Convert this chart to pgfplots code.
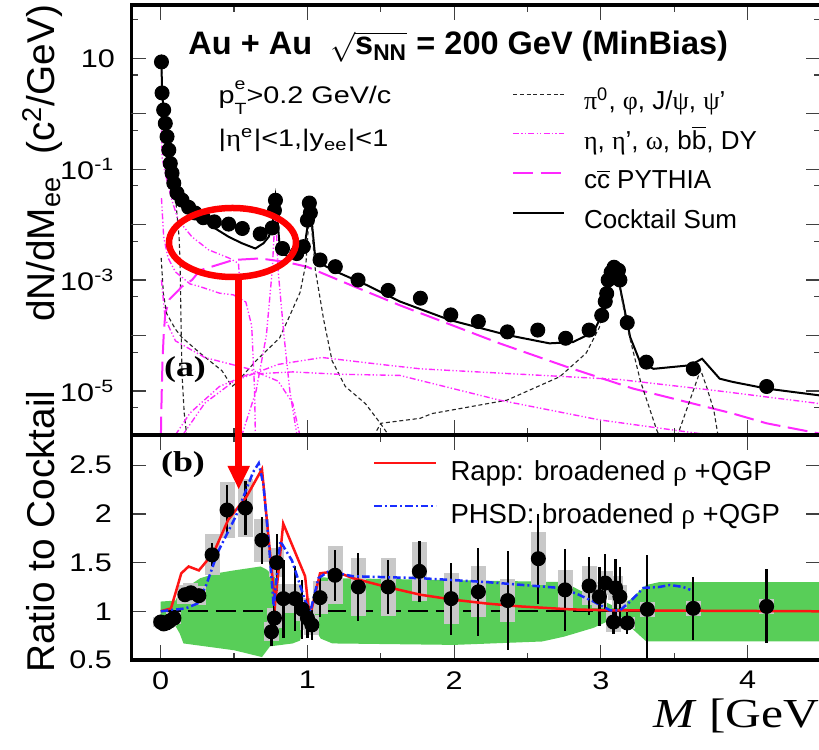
\documentclass[border=0pt]{standalone}
\usepackage{pgfplots}
\pgfplotsset{compat=1.18}
\usepackage{pgfplotstable}
\usepackage{amsmath}
\usepackage{fontspec}
\setmainfont{Liberation Sans}
\newfontfamily\grk{Liberation Serif}
\definecolor{bandgreen}{RGB}{88,206,88}
\definecolor{mag}{RGB}{255,40,255}
\definecolor{sysgray}{RGB}{200,200,200}
\definecolor{rappred}{RGB}{255,20,20}
\definecolor{phsdblue}{RGB}{25,45,255}

\pgfplotstableread{
M r stat sys
0.00 0.89 0.03 0.05
0.02 0.87 0.03 0.05
0.04 0.88 0.03 0.05
0.06 0.90 0.03 0.05
0.09 0.93 0.04 0.06
0.165 1.17 0.06 0.10
0.205 1.19 0.06 0.10
0.26 1.16 0.06 0.10
0.35 1.58 0.12 0.21
0.452 2.04 0.26 0.29
0.577 2.06 0.28 0.30
0.69 1.73 0.24 0.22
0.79 1.50 0.29 0.15
0.755 0.79 0.15 0.10
0.775 0.93 0.20 0.10
0.836 1.13 0.40 0.15
0.915 1.13 0.33 0.15
0.965 1.02 0.30 0.12
1.0 0.93 0.20 0.12
1.03 0.86 0.15 0.10
1.086 1.14 0.20 0.17
1.188 1.37 0.26 0.30
1.347 1.25 0.35 0.30
1.55 1.25 0.28 0.30
1.763 1.41 0.31 0.30
1.979 1.13 0.37 0.26
2.165 1.20 0.45 0.26
2.365 1.11 0.51 0.22
2.574 1.54 0.46 0.27
2.756 1.22 0.42 0.20
2.92 1.26 0.30 0.20
2.99 1.15 0.30 0.12
3.03 1.29 0.30 0.12
3.086 0.89 0.12 0.10
3.10 1.24 0.30 0.12
3.13 1.15 0.30 0.12
3.18 0.88 0.11 0.06
3.317 1.02 0.56 0.08
3.63 1.03 0.32 0.08
4.13 1.05 0.38 0.08
}\ratiodata

\pgfplotstableread{
M v
0.005 8.6
0.009 2.37
0.02 1.17
0.031 0.67
0.043 0.385
0.055 0.221
0.065 0.127
0.077 0.085
0.089 0.056
0.111 0.037
0.145 0.0277
0.19 0.0205
0.234 0.0162
0.29 0.0133
0.365 0.0112
0.463 0.0102
0.556 0.0085
0.678 0.0068
0.76 0.0087
0.775 0.018
0.782 0.0275
0.83 0.0037
0.927 0.0030
0.972 0.0040
1.0 0.012
1.013 0.0245
1.02 0.0163
1.086 0.0023
1.19 0.00174
1.345 0.0010
1.55 6.5e-4
1.77 4.7e-4
1.977 2.35e-4
2.165 1.78e-4
2.363 1.16e-4
2.57 1.25e-4
2.76 8.9e-5
2.92 1.25e-4
3.006 2.3e-4
3.03 4.1e-4
3.04 5.7e-4
3.05 1.0e-3
3.07 1.38e-3
3.09 1.7e-3
3.12 1.5e-3
3.13 1.0e-3
3.18 1.7e-4
3.31 3.3e-5
3.63 2.5e-5
4.13 1.2e-5
}\spectrum

\begin{document}
\begin{tikzpicture}
\useasboundingbox (0,0) rectangle (327.6pt,300pt);
% ---------------- top panel ----------------
\begin{axis}[
  at={(52.56pt,126pt)}, anchor=south west, scale only axis,
  width=275.8pt, height=172pt,
  xmin=-0.2, xmax=4.5, ymode=log, ymin=1.6e-6, ymax=91.5,
  axis line style={line width=1.5pt},
  tick align=inside,
  xtick={0,1,2,3,4}, minor xtick={0.5,1.5,2.5,3.5}, xticklabels={,,},
  ytick={1e-5,1e-3,0.1,10},
  yticklabels={10\textsuperscript{-5},10\textsuperscript{-3},10\textsuperscript{-1},10},
  extra y ticks={1e-4,1e-2,1}, extra y tick labels={},
  minor ytick={5e-6,5e-5,5e-4,5e-3,5e-2,0.5,5,50},
  major tick length=6pt, minor tick length=2.8pt,
  tick style={line width=0.5pt, black!75},
  yticklabel style={font=\fontsize{10.2}{12}\selectfont, xscale=1.2, xshift=-2pt},
  legend style={at={(rel axis cs:0.552,0.8025)}, anchor=north west, draw=none, fill=none,
     inner sep=0pt, outer sep=0pt, row sep=4.8pt, column sep=7.6pt,
     font=\fontsize{10.4}{12}\selectfont,
     nodes={inner sep=0pt, text height=8pt, text depth=3pt}},
  legend cell align=left,
  legend image code/.code={\draw[#1] (0pt,3.75pt) -- (20.4pt,3.75pt);},
]
% pi0 (black dashed)
\addplot[black!85, line width=0.45pt, dash pattern=on 1.6pt off 1.1pt] coordinates {
(0.005,8.3) (0.01,2.3) (0.02,1.1) (0.04,0.38) (0.06,0.17) (0.08,0.075) (0.10,0.033)
(0.11,0.016) (0.125,0.006) (0.132,2e-3) (0.138,2e-4) (0.145,2e-5) (0.16,4e-6) (0.178,1.5e-6)};
\addlegendentry{{\grk π}\textsuperscript{0}, {\grk φ}, J/{\grk ψ}, {\grk ψ}'}
% eta Dalitz (magenta dash-dot-dot)
\addplot[mag, line width=0.55pt, dash pattern=on 2.4pt off 0.9pt on 0.5pt off 0.9pt on 0.5pt off 0.9pt] coordinates {
(0.005,0.5) (0.01,0.16) (0.031,0.083) (0.077,0.027) (0.12,0.012) (0.213,6e-3) (0.327,3.5e-3)
(0.464,2.5e-3) (0.53,2e-3) (0.545,5e-4) (0.548,1.5e-6)};
\addlegendentry{{\grk η}, {\grk η}', {\grk ω}, b$\overline{\mbox{b}}$, DY}
% c cbar
\addplot[mag, line width=0.8pt, dash pattern=on 8pt off 3pt] coordinates {
(0.001,1.5e-6) (0.006,8e-6) (0.012,3.5e-5) (0.02,1e-4) (0.031,2.5e-4) (0.06,4.5e-4) (0.123,6.6e-4)
(0.143,7.6e-4) (0.213,1e-3) (0.268,1.5e-3) (0.495,2.3e-3) (0.677,2.45e-3) (0.859,2.1e-3)
(0.995,1.74e-3) (1.3,8e-4) (1.63,3.5e-4) (2.31,7.2e-5) (2.77,2.7e-5) (3.22,1.1e-5)
(3.9,3.9e-6) (4.13,2.6e-6) (4.49,1.7e-6)};
\addlegendentry{c$\overline{\mbox{c}}$ PYTHIA}
% cocktail sum
\addplot[black, line width=0.8pt] coordinates {
(0.005,8.6) (0.009,2.37) (0.02,1.15) (0.04,0.4) (0.06,0.17) (0.08,0.08) (0.1,0.045) (0.13,0.028)
(0.18,0.019) (0.26,0.0138) (0.372,0.0085) (0.464,0.006) (0.554,0.0046) (0.645,0.0037)
(0.70,0.0046) (0.736,0.006) (0.76,0.009) (0.782,0.03) (0.80,0.009) (0.815,0.003) (0.915,0.0025)
(0.98,0.004) (1.005,0.011) (1.018,0.0275) (1.035,0.008) (1.05,0.0031) (1.086,0.002) (1.2,0.0014)
(1.4,8.2e-4) (1.63,4.1e-4) (1.97,1.9e-4) (2.36,1.02e-4) (2.65,7.2e-5) (2.81,7.6e-5)
(2.95,1.15e-4) (2.99,1.9e-4) (3.04,6e-4) (3.085,1.74e-3) (3.13,7.6e-4) (3.2,9.3e-5)
(3.27,3.2e-5) (3.36,2.5e-5) (3.61,2.9e-5) (3.69,3.8e-5) (3.81,1.66e-5) (3.90,1.45e-5)
(4.13,1.1e-5) (4.49,8.3e-6)};
\addlegendentry{Cocktail Sum}
% phi (Dalitz + peak)
\addplot[forget plot, black!85, line width=0.45pt, dash pattern=on 1.6pt off 1.1pt] coordinates {
(0.003,2.5e-3) (0.018,5.7e-4) (0.04,2.5e-4) (0.1,1.3e-4) (0.143,9.3e-5) (0.268,4.8e-5)
(0.418,2.3e-5) (0.486,1.2e-5) (0.51,1.35e-5) (0.65,3.5e-5) (0.81,9e-5) (0.87,2e-4) (0.95,6e-4)
(0.99,2e-3) (1.005,8e-3) (1.019,0.027) (1.03,8e-3) (1.054,1.5e-3) (1.111,1.9e-4) (1.168,3.5e-5)
(1.258,1.2e-5) (1.395,5.9e-6) (1.497,2.6e-6) (1.56,1.5e-6)};
% J/psi
\addplot[forget plot, black!85, line width=0.45pt, dash pattern=on 1.6pt off 1.1pt] coordinates {
(1.45,1.5e-6) (1.5,2.6e-6) (1.768,3.2e-6) (1.85,3.9e-6) (2.36,6.8e-6) (2.72,1.8e-5) (2.90,4.8e-5)
(2.99,1.4e-4) (3.04,5e-4) (3.09,1.6e-3) (3.13,7e-4) (3.18,1.4e-4) (3.27,1.5e-5) (3.38,2e-6) (3.40,1.5e-6)};
% psi'
\addplot[forget plot, black!85, line width=0.45pt, dash pattern=on 1.6pt off 1.1pt] coordinates {
(3.52,1.5e-6) (3.6,6e-6) (3.68,2.4e-5) (3.72,1.2e-5) (3.77,4.5e-6) (3.80,1.5e-6)};
% omega Dalitz
\addplot[forget plot, mag, line width=0.55pt, dash pattern=on 2.4pt off 0.9pt on 0.5pt off 0.9pt on 0.5pt off 0.9pt] coordinates {
(0.005,0.03) (0.02,6e-3) (0.05,2.5e-3) (0.1,1.4e-3) (0.2,8.5e-4) (0.268,7.6e-4) (0.4,5.8e-4)
(0.495,5.4e-4) (0.58,4e-4) (0.62,1.5e-4) (0.64,1e-5) (0.645,1.5e-6)};
% omega peak
\addplot[forget plot, mag, line width=0.55pt, dash pattern=on 2.4pt off 0.9pt on 0.5pt off 0.9pt on 0.5pt off 0.9pt] coordinates {
(0.55,1.5e-6) (0.65,1e-5) (0.72,1e-4) (0.76,1.5e-3) (0.782,0.02) (0.80,1.5e-3) (0.84,1e-4)
(0.88,1e-5) (0.93,1.5e-6)};
% eta' Dalitz
\addplot[forget plot, mag, line width=0.55pt, dash pattern=on 2.4pt off 0.9pt on 0.5pt off 0.9pt on 0.5pt off 0.9pt] coordinates {
(0.005,1e-3) (0.03,2e-4) (0.1,8e-5) (0.3,4e-5) (0.6,2.5e-5) (0.8,1.5e-5) (0.9,6e-6) (0.95,1.5e-6)};
% b bbar / DY
\addplot[forget plot, mag, line width=0.55pt, dash pattern=on 2.4pt off 0.9pt on 0.5pt off 0.9pt on 0.5pt off 0.9pt] coordinates {
(0.15,1.6e-6) (0.3,6e-6) (0.5,1.5e-5) (0.8,3e-5) (1.1,4e-5) (1.5,3e-5) (1.77,2.5e-5) (2.3,2.1e-5)
(3.13,1.6e-5) (3.8,1e-5) (4.49,5.9e-6)};
\addplot[forget plot, mag, line width=0.55pt, dash pattern=on 2.4pt off 0.9pt on 0.5pt off 0.9pt on 0.5pt off 0.9pt] coordinates {
(0.1,1.6e-6) (0.2,4e-6) (0.4,1.2e-5) (0.6,2e-5) (0.9,2.2e-5) (1.2,2e-5) (1.63,1.9e-5) (2.31,6.8e-6)
(2.99,3e-6) (3.36,2.2e-6) (3.67,1.7e-6) (3.9,1.6e-6)};
% data
\addplot[forget plot, only marks, mark=*, mark size=2.8pt, mark options={fill=black, draw=black}] table[x=M, y=v] {\spectrum};
\end{axis}

% ---------------- bottom panel ----------------
\begin{axis}[
  at={(52.56pt,36pt)}, anchor=south west, scale only axis,
  width=275.8pt, height=90pt,
  xmin=-0.2, xmax=4.5, ymin=0.5, ymax=2.81,
  axis line style={line width=1.5pt},
  tick align=inside,
  xtick={0,1,2,3,4}, minor xtick={0.5,1.5,2.5,3.5},
  ytick={0.5,1,1.5,2,2.5},
  major tick length=6pt, minor tick length=2.8pt,
  tick style={line width=0.5pt, black!75},
  /pgf/number format/assume math mode=true,
  ticklabel style={font=\fontsize{10.2}{12}\selectfont, xscale=1.2},
  yticklabel style={xshift=-3pt},
  xticklabel style={yshift=-1pt},
  legend style={at={(rel axis cs:0.3504,0.894)}, anchor=north west, draw=none, fill=none,
     inner sep=0pt, outer sep=0pt, row sep=5.7pt, column sep=5.2pt,
     font=\fontsize{11}{13}\selectfont,
     nodes={inner sep=0pt, text height=8.5pt, text depth=3pt}},
  legend cell align=left,
  legend image code/.code={\draw[#1] (0pt,4pt) -- (24.8pt,4pt);},
]
\addplot[forget plot, fill=bandgreen, draw=none] coordinates {
(0,1.10) (0.10,1.11) (0.13,1.2) (0.27,1.34) (0.38,1.39) (0.5,1.42) (0.68,1.46) (0.72,1.43)
(0.78,1.35) (0.80,1.15) (0.9,1.15) (0.97,1.1) (1.0,1.05) (1.03,1.05) (1.06,1.3) (1.09,1.35)
(1.2,1.34) (2.0,1.32) (2.75,1.30) (2.85,1.22) (2.95,1.15) (3.08,1.06) (3.12,1.06) (3.2,1.12)
(3.31,1.27) (3.4,1.30) (4.6,1.30)
(4.6,0.69) (3.31,0.69) (3.2,0.84) (3.12,0.92) (3.08,0.92) (2.95,0.83) (2.75,0.74) (2.6,0.69)
(2.0,0.655) (1.17,0.67) (1.09,0.72) (1.06,0.8) (1.03,0.95) (1.0,0.95) (0.97,0.85) (0.95,0.7)
(0.9,0.67) (0.745,0.64) (0.69,0.53) (0.5,0.6) (0.155,0.67) (0.13,0.77) (0.10,0.85) (0,0.86)} -- cycle;
\addplot[forget plot, black, line width=0.8pt, dash pattern=on 8pt off 3pt] coordinates {(0,1) (4.6,1)};
\addplot[forget plot, only marks, mark=none, error bars/.cd, y dir=both, y explicit, error mark=none,
  error bar style={line width=6pt, sysgray}] table[x=M, y=r, y error=sys] {\ratiodata};
\addplot[forget plot, only marks, mark=none, error bars/.cd, y dir=both, y explicit, error mark=none,
  error bar style={line width=0.9pt, black}] table[x=M, y=r, y error=stat] {\ratiodata};
\addplot[forget plot, only marks, mark=*, mark size=2.8pt, mark options={fill=black, draw=black}] table[x=M, y=r] {\ratiodata};
\addplot[rappred, line width=1pt] coordinates {
(0.0,1.0) (0.07,1.03) (0.14,1.39) (0.19,1.46) (0.26,1.42) (0.36,1.60) (0.46,1.94) (0.586,2.18)
(0.69,2.46) (0.723,1.94) (0.757,1.42) (0.78,1.08) (0.835,1.90) (0.984,1.36) (1.006,1.05)
(1.03,1.03) (1.086,1.39) (1.19,1.41) (1.31,1.34) (1.54,1.25) (1.77,1.17) (1.99,1.12) (2.22,1.08)
(2.45,1.05) (2.79,1.02) (3.06,1.01) (4.5,1.0)};
\addlegendentry{Rapp: broadened {\grk ρ} +QGP}
\addplot[phsdblue, line width=1pt, dash pattern=on 3pt off 1.2pt on 0.8pt off 1.2pt] coordinates {
(0.0,1.0) (0.17,1.03) (0.25,1.08) (0.31,1.27) (0.39,1.61) (0.51,1.97) (0.63,2.43) (0.668,2.52)
(0.70,2.30) (0.737,1.70) (0.77,1.05) (0.815,1.72) (0.895,1.52) (0.986,1.1) (1.02,1.0)
(1.075,1.34) (1.145,1.41) (1.31,1.36) (1.77,1.34) (2.22,1.30) (2.72,1.24) (2.836,1.18)
(2.95,1.10) (3.063,1.01) (3.13,1.01) (3.2,1.10) (3.29,1.24) (3.4,1.25) (3.47,1.27) (3.56,1.25) (3.61,1.22)};
\addlegendentry{PHSD: broadened {\grk ρ} +QGP}
\end{axis}

% ---------------- texts and annotation (pixel frame) ----------------
\begin{scope}[x=0.4pt, y=-0.4pt, yshift=300pt]
\node[anchor=base west, inner sep=0pt, font=\fontsize{13}{15}\bfseries\selectfont] at (188,55)
  {Au + Au\ \ $\sqrt{\text{s}_{\text{NN}}}$ = 200 GeV (MinBias)};
\node[anchor=base west, inner sep=0pt, xscale=1.2, font=\fontsize{9.6}{11}\selectfont] at (218,104)
  {p\rlap{\raisebox{0.62em}{\fontsize{6.5}{7}\selectfont e}}\raisebox{-0.42em}{\fontsize{6.5}{7}\selectfont T}>0.2 GeV/c};
\node[anchor=base west, inner sep=0pt, xscale=1.2, font=\fontsize{9.6}{11}\selectfont] at (218,147)
  {|{\grk η}\textsuperscript{e}|<1,|y\textsubscript{ee}|<1};
\node[font=\fontsize{11.5}{13}\grk\bfseries, xscale=1.25] at (185,370) {(a)};
\node[font=\fontsize{11.5}{13}\grk\bfseries, xscale=1.25] at (183,465) {(b)};
\node[rotate=90, anchor=base, inner sep=0pt, font=\fontsize{15.5}{18}\selectfont] at (55,163.5)
  {dN/dM\textsubscript{ee}\ \ (c\textsuperscript{2}/GeV)};
\node[rotate=90, anchor=base, inner sep=0pt, font=\fontsize{15.5}{18}\selectfont] at (55,531.5)
  {Ratio to Cocktail};
\node[anchor=base west, inner sep=0pt, xscale=1.2, font=\fontsize{16.5}{19}\grk] at (653,728)
  {\textit{M} [GeV};
\draw[red, line width=2.6pt] (232.5,242.5) ellipse [x radius=63.5, y radius=34.5];
\draw[red, line width=2.6pt] (238.7,277) -- (238.7,468);
\fill[red] (227.5,466) -- (250,466) -- (238.7,489) -- cycle;
\end{scope}
\end{tikzpicture}
\end{document}
